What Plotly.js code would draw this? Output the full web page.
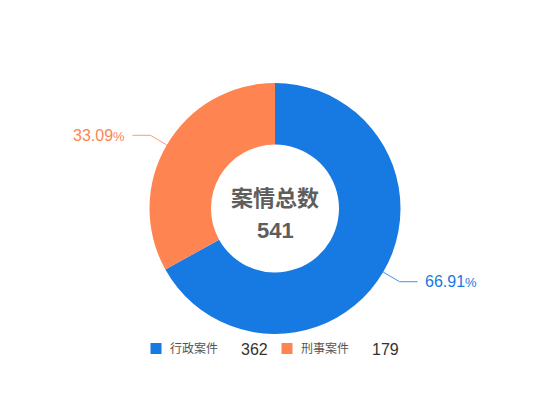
<!DOCTYPE html>
<html>
<head>
<meta charset="utf-8">
<script src="https://cdn.plot.ly/plotly-3.0.1.min.js"></script>
<style>html,body{margin:0;padding:0;background:#fff;}#chart{width:550px;height:420px;}</style>
</head>
<body>
<div id="chart"></div>
<script>
// ---- data ----
const categories = ['行政案件', '刑事案件'];
const values = [362, 179];
const colors = ['#1779e2', '#fe8452'];
const centerTitle = '案情总数';

// ---- layout constants (pixels) ----
const W = 550, H = 420;
const cx = 275, cy = 208.5, R = 125.5, holeFrac = 0.51;
const FONT = 'Liberation Sans, Arial, "Noto Sans CJK SC", sans-serif';
const px = x => x / W;
const py = y => 1 - y / H;

const total = values.reduce((a, b) => a + b, 0);

const trace = {
  type: 'pie',
  labels: categories,
  values: values,
  sort: false,
  direction: 'clockwise',
  rotation: 0,
  hole: holeFrac,
  textinfo: 'none',
  hoverinfo: 'none',
  marker: { colors: colors, line: { width: 0 } },
  showlegend: false,
  domain: { x: [px(cx - R), px(cx + R)], y: [py(cy + R), py(cy - R)] }
};

const shapes = [];
const annotations = [];

// leader lines + percent labels computed from data
let cum = 0;
values.forEach((v, i) => {
  const frac = v / total;
  const mid = (cum + frac / 2) * 2 * Math.PI; // clockwise from 12 o'clock
  cum += frac;
  const dx = Math.sin(mid), dy = -Math.cos(mid);
  const p0 = [cx + R * dx, cy + R * dy];
  const p1 = [cx + (R + 19) * dx, cy + (R + 19) * dy];
  const side = dx >= 0 ? 1 : -1;
  const p2 = [p1[0] + side * 18, p1[1]];
  shapes.push({
    type: 'path', xref: 'paper', yref: 'paper',
    path: `M${px(p0[0])},${py(p0[1])} L${px(p1[0])},${py(p1[1])} L${px(p2[0])},${py(p2[1])}`,
    line: { color: colors[i], width: 1 }, opacity: 0.8
  });
  const pct = (frac * 100).toFixed(2);
  annotations.push({
    xref: 'paper', yref: 'paper',
    x: px(p2[0] + side * 5), y: py(p2[1]),
    xanchor: side > 0 ? 'left' : 'right', yanchor: 'middle',
    text: `${pct}<span style="font-size:13px">%</span>`,
    showarrow: false,
    font: { family: FONT, size: 16, color: colors[i] }
  });
});

// center text
annotations.push({
  xref: 'paper', yref: 'paper', x: px(cx), y: py(198),
  xanchor: 'center', yanchor: 'middle', showarrow: false,
  text: `<b>${centerTitle}</b>`,
  font: { family: FONT, size: 22, color: '#5e5e5e' }
});
annotations.push({
  xref: 'paper', yref: 'paper', x: px(cx), y: py(230.5),
  xanchor: 'center', yanchor: 'middle', showarrow: false,
  text: `<b>${total}</b>`,
  font: { family: FONT, size: 22, color: '#5e5e5e' }
});

// custom legend
const legX = [150.5, 281.5];
const legY = 348.5;
categories.forEach((c, i) => {
  const x0 = legX[i];
  shapes.push({
    type: 'rect', xref: 'paper', yref: 'paper',
    x0: px(x0), x1: px(x0 + 11), y0: py(legY + 5.5), y1: py(legY - 5.5),
    fillcolor: colors[i], line: { width: 0 }
  });
  annotations.push({
    xref: 'paper', yref: 'paper', x: px(x0 + 17), y: py(legY),
    xanchor: 'left', yanchor: 'middle', showarrow: false,
    text: c, font: { family: FONT, size: 12, color: '#555' }
  });
  annotations.push({
    xref: 'paper', yref: 'paper', x: px(x0 + 88), y: py(legY + 1),
    xanchor: 'left', yanchor: 'middle', showarrow: false,
    text: String(values[i]), font: { family: FONT, size: 16, color: '#333' }
  });
});

const layout = {
  width: W, height: H,
  margin: { l: 0, r: 0, t: 0, b: 0 },
  paper_bgcolor: '#fff',
  plot_bgcolor: '#fff',
  showlegend: false,
  shapes: shapes,
  annotations: annotations
};

Plotly.newPlot('chart', [trace], layout, { displayModeBar: false, staticPlot: true });
</script>
</body>
</html>
